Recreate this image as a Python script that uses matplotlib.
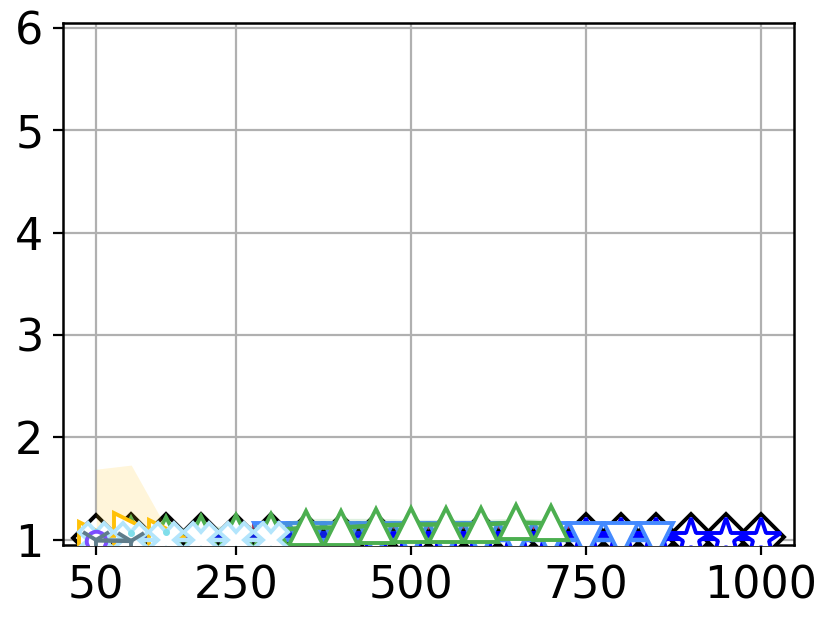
import matplotlib
matplotlib.use("Agg")
import matplotlib.pyplot as plt
import numpy as np

plt.rcParams['font.family'] = ['DejaVu Sans']
plt.rcParams['font.size'] = 16

# ---- data ----
x_black = [50, 100, 150, 200, 250, 300, 350, 400, 450, 500, 550, 600, 650, 700, 750, 800, 850, 900, 950, 1000]
y_black = [1.02, 1.03, 1.03, 1.03, 1.02, 1.03, 1.02, 1.02, 1.03, 1.02, 1.02, 1.03, 1.02, 1.02, 1.03, 1.03, 1.03, 1.03, 1.03, 1.03]

x_star = [100, 150, 200, 250, 300, 350, 400, 450, 500, 550, 600, 650, 700, 750, 800, 850, 900, 950, 1000]
y_star = [1.01, 1.01, 1.02, 1.01, 1.01, 1.01, 1.01, 1.01, 1.01, 1.01, 1.01, 1.01, 1.01, 1.01, 1.01, 1.01, 1.01, 1.01, 1.01]

x_v = [300, 350, 400, 450, 500, 550, 600, 650, 700, 750, 800, 850]
y_v = [1.00, 1.00, 1.00, 1.00, 1.00, 1.00, 1.00, 1.00, 1.00, 1.00, 1.00, 1.00]

x_crimson = [300, 350, 400, 450, 500, 550, 600, 650, 700]
y_crimson = [0.99, 0.99, 0.99, 0.99, 0.99, 0.99, 0.99, 0.99, 0.99]

x_green = [100, 150, 200, 250, 300, 350, 400, 450, 500, 550, 600, 650, 700]
y_green = [1.05, 1.06, 1.07, 1.08, 1.09, 1.12, 1.12, 1.14, 1.15, 1.15, 1.15, 1.17, 1.16]
std_green = [0.04, 0.05, 0.06, 0.06, 0.07, 0.09, 0.09, 0.07, 0.05, 0.05, 0.05, 0.04, 0.04]

x_amber = [50, 100, 150]
y_amber = [1.01, 1.10, 1.03]
std_amber = [0.68, 0.63, 0.09]

x_lb = [50, 100, 150, 200, 250, 300]
y_lb = [1.00, 1.00, 1.00, 1.00, 1.00, 1.00]

x_cyan = [50, 100, 150]
y_cyan = [1.08, 1.07, 1.08]

x_purple = [50]
y_purple = [0.99]

x_grey = [50, 100]
y_grey = [0.995, 0.99]

x_ticks = [50, 250, 500, 750, 1000]
y_ticks = [1, 2, 3, 4, 5, 6]

# ---- figure ----
fig = plt.figure(figsize=(4.15, 3.11), dpi=200)
ax = fig.add_axes([0.0759, 0.1238, 0.8807, 0.84])

ms = 12
mew = 1.4
lw = 1.6

ax.plot(x_crimson, y_crimson, color='#C2185B', marker='s', ms=ms, mfc='white', mec='#C2185B', mew=mew, lw=lw, zorder=2)
ax.plot(x_black, y_black, color='black', marker='D', ms=11.5, mfc='white', mec='black', mew=mew, lw=lw, zorder=3)
ax.plot(x_star, y_star, color='#0000FF', marker='*', ms=15, mfc='white', mec='#0000FF', mew=mew, lw=lw, zorder=4)
ax.plot(x_v, y_v, color='#448AFF', marker='v', ms=ms, mfc='white', mec='#448AFF', mew=mew, lw=lw, zorder=5)

yg = np.array(y_green); sg = np.array(std_green)
ax.fill_between(x_green, yg - sg, yg + sg, color='#4CAF50', alpha=0.18, lw=0, zorder=5.5)
ax.plot(x_green, y_green, color='#4CAF50', marker='^', ms=ms, mfc='white', mec='#4CAF50', mew=mew, lw=lw, zorder=6)

ya = np.array(y_amber); sa = np.array(std_amber)
ax.fill_between(x_amber, ya - sa, ya + sa, color='#FFC107', alpha=0.15, lw=0, zorder=6.5)
ax.plot(x_amber, y_amber, color='#FFC107', marker='>', ms=ms, mfc='white', mec='#FFC107', mew=mew, lw=lw, zorder=7)

ax.plot(x_lb, y_lb, color='#B3E5FC', marker='X', ms=ms, mfc='white', mec='#B3E5FC', mew=mew, lw=lw, zorder=8)
ax.plot(x_cyan, y_cyan, color='#80DEEA', marker='.', ms=3, lw=0, zorder=9)
ax.plot(x_purple, y_purple, color='#7C4DFF', marker='o', ms=7, mfc='white', mec='#7C4DFF', mew=mew, lw=lw, zorder=9)
ax.plot(x_grey, y_grey, color='#607D8B', marker='1', ms=ms, mew=mew, lw=lw, zorder=9)

ax.set_xlim(2.5, 1047.5)
ax.set_ylim(0.95, 6.05)
ax.set_xticks(x_ticks)
ax.set_yticks(y_ticks)
ax.grid(True, color='#b0b0b0', lw=0.8)
for s in ax.spines.values():
    s.set_linewidth(0.9)

fig.savefig('out.png', dpi=200)
